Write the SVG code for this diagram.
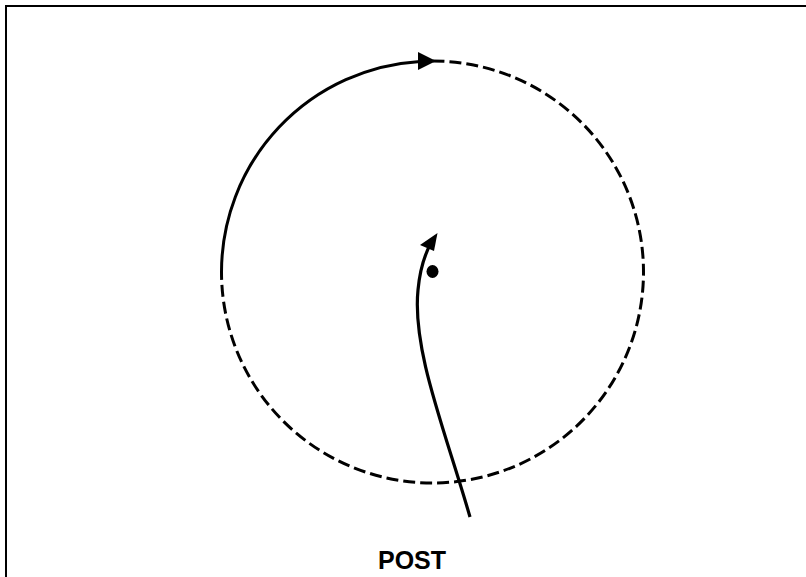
<svg xmlns="http://www.w3.org/2000/svg" width="806" height="577" viewBox="0 0 806 577">
<style>
.ln{fill:none;stroke:#000;stroke-linecap:butt}
.solid{stroke-width:3}
.dash{stroke-width:3;stroke-dasharray:12 5}
.lbl{font-family:"Liberation Sans",Arial,sans-serif;font-weight:bold;font-size:25px;fill:#000}
</style>
<rect x="6" y="6" width="820" height="600" fill="#fff" stroke="#000" stroke-width="2"/>
<g id="orbit">
<path class="ln dash" d="M432.5,61 A211,211 0 1 1 221.5,272"/>
<path class="ln solid" d="M221.5,272 A211,211 0 0 1 420,61.4"/>
<polygon points="436,61 418,52 418,70" fill="#000"/>
</g>
<g id="center">
<ellipse cx="432.5" cy="271.5" rx="6" ry="6.5" fill="#000"/>
</g>
<g id="connectors">
<path class="ln" stroke-width="3.2" d="M470,517 C445,430 412,350 418,290 C420,268 425,254 431,243"/>
<polygon points="437.5,233 420,245 434,251" fill="#000"/>
</g>
<g id="label">
<text class="lbl" x="412" y="569" text-anchor="middle">POST</text>
</g>
</svg>
